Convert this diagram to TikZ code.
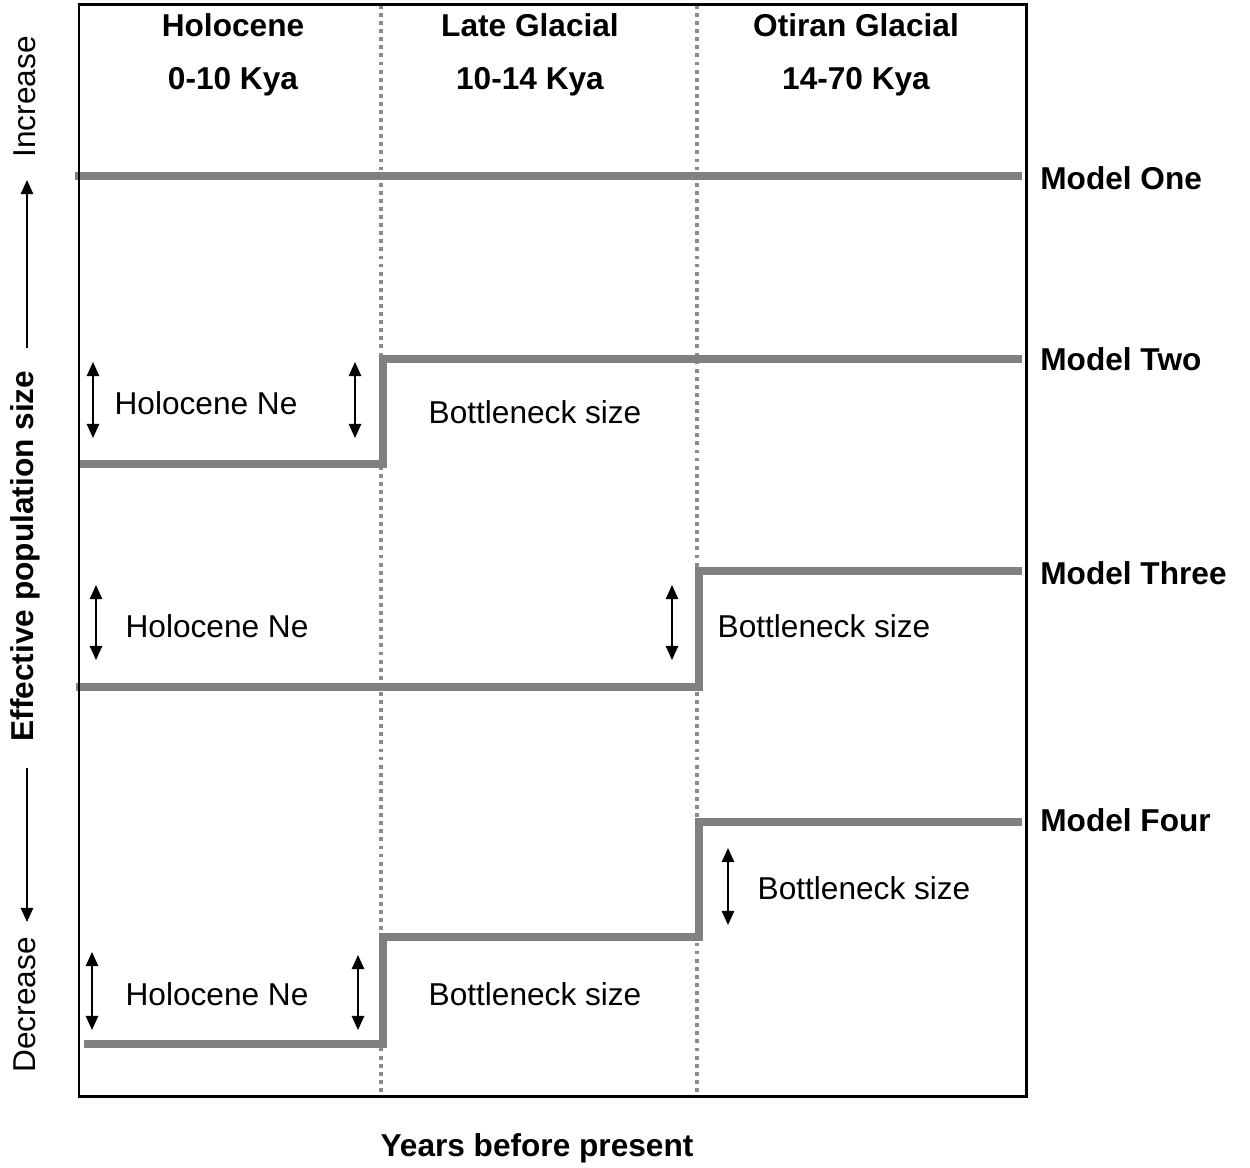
\documentclass[tikz,border=0pt]{standalone}
\usepackage{fontspec}
\setmainfont{Liberation Sans}
\usetikzlibrary{positioning,arrows.meta}

\begin{document}
\begin{tikzpicture}[x=0.02cm,y=-0.02cm,
    every node/.style={inner sep=0pt,font=\fontsize{18}{21}\selectfont},
    head/.style={font=\fontsize{18}{21}\selectfont\bfseries},
    model/.style={line width=4pt,color=black!50,line join=miter},
    era/.style={line width=2.4pt,color=black!45,dash pattern=on 2.2pt off 2.4pt},
    span/.style={{Triangle[length=8pt,width=7pt]}-{Triangle[length=8pt,width=7pt]},line width=1pt},
    axis/.style={-{Triangle[length=8pt,width=7pt]},line width=1pt}]
    \useasboundingbox (0,0) rectangle (1250,1168);

    % Period boundaries
    \foreach \x in {381,697} {
        \draw[era] (\x,5) -- (\x,1096);
    }

    % Period headings
    \node[head] (hol) at (233,25) {Holocene};
    \node[head] (holkya) at (233,82) {0-10 Kya};
    \node[head] (lg) at (530,25) {Late Glacial};
    \node[head] (lgkya) at (530,82) {10-14 Kya};
    \node[head] (og) at (856,25) {Otiran Glacial};
    \node[head] (ogkya) at (856,82) {14-70 Kya};

    % Model trajectories
    \draw[model] (75,176) -- (1022,176);
    \draw[model] (80,464) -- (383,464) -- (383,359) -- (1022,359);
    \draw[model] (76,687) -- (699,687) -- (699,571) -- (1022,571);
    \draw[model] (84,1044) -- (383,1044) -- (383,937) -- (699,937) -- (699,822) -- (1022,822);

    % Frame
    \draw[line width=1.7pt] (79,5) rectangle (1026,1096);

    % Model names
    \node[head,anchor=west] (m1) at (1040,178) {Model One};
    \node[head,anchor=west] (m2) at (1040,359) {Model Two};
    \node[head,anchor=west] (m3) at (1040,573) {Model Three};
    \node[head,anchor=west] (m4) at (1040,820) {Model Four};

    % Size arrows
    \foreach \x/\a/\b in {93/362/438, 355/362/438, 96/585/660, 672/585/660,
                          728/848/925, 92/952/1030, 358/955/1030} {
        \draw[span] (\x,\a) -- (\x,\b);
    }

    % Size labels
    \node (ne2) at (206,403) {Holocene Ne};
    \node (bn2) at (535,412) {Bottleneck size};
    \node (ne3) at (217,626) {Holocene Ne};
    \node (bn3) at (824,626) {Bottleneck size};
    \node (bn4a) at (864,888) {Bottleneck size};
    \node (ne4) at (217,994) {Holocene Ne};
    \node (bn4b) at (535,994) {Bottleneck size};

    % Axis titles
    \node[rotate=90] (inc) at (25,97) {Increase};
    \node[head,rotate=90] (eps) at (25,556) {Effective population size};
    \node[rotate=90] (dec) at (25,1005) {Decrease};
    \draw[axis] (27,348) -- (27,180);
    \draw[axis] (27,768) -- (27,922);
    \node[head] (ybp) at (537,1148) {Years before present};
\end{tikzpicture}
\end{document}
